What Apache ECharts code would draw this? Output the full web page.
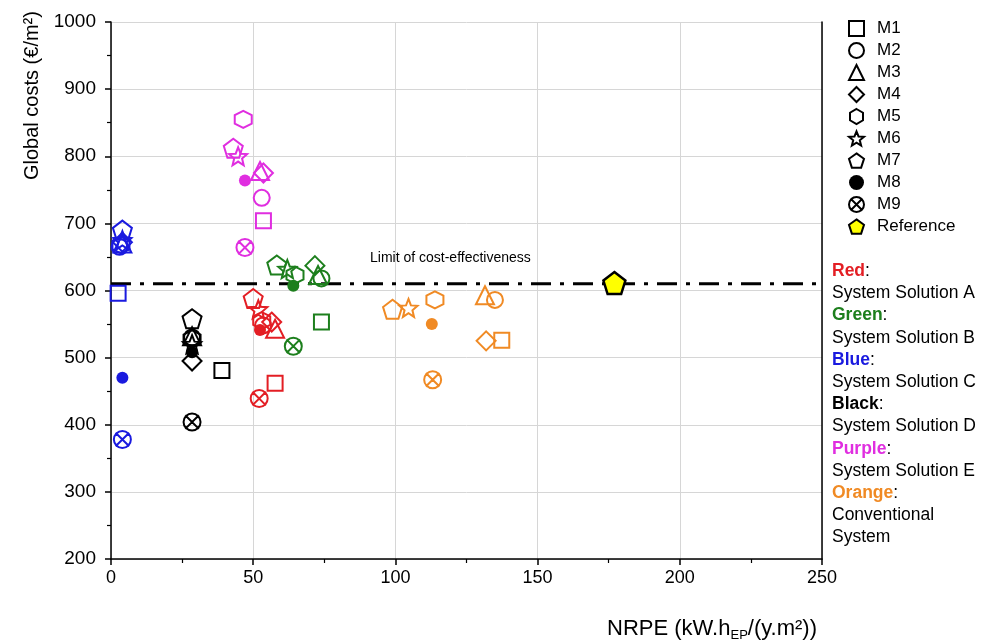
<!DOCTYPE html>
<html><head><meta charset="utf-8">
<script src="https://cdn.jsdelivr.net/npm/echarts@6/dist/echarts.min.js"></script>
<style>html,body{margin:0;padding:0;background:#fff}#c{width:981px;height:644px}</style>
</head><body><div id="c"></div>
<script>
// Systems order: A (red), B (green), C (blue), D (black), E (purple), Conventional (orange)
const systemNames = ['Red', 'Green', 'Blue', 'Black', 'Purple', 'Orange'];
const systemLabels = ['System Solution A', 'System Solution B', 'System Solution C', 'System Solution D', 'System Solution E', 'Conventional\nSystem'];
const systemColors = ['#e31e24', '#1d7f1d', '#1a1adf', '#000000', '#e02ee0', '#f08a24'];
const methodNames = ['M1', 'M2', 'M3', 'M4', 'M5', 'M6', 'M7', 'M8', 'M9'];
// [NRPE, Global cost] per system (A, B, C, D, E, Conv)
const m1 = [[57.7, 462], [74, 553], [2.5, 596], [39, 481], [53.6, 704], [137.4, 526]];
const m2 = [[53.5, 548], [74, 618], [3, 665], [28.5, 530], [53, 738], [135, 586]];
const m3 = [[57.7, 543], [72.8, 623], [4, 670], [28.5, 532], [52.4, 778], [131.5, 593]];
const m4 = [[56.5, 553], [71.7, 637], [4, 672], [28.5, 495], [53.6, 775], [131.9, 525]];
const m5 = [[53, 555], [64.7, 623], [3.5, 668], [28.5, 528], [46.5, 855], [113.9, 586]];
const m6 = [[51.8, 572], [62, 632], [4, 675], [28.5, 520], [44.7, 800], [104.6, 574]];
const m7 = [[50, 588], [58.3, 638], [4, 690], [28.5, 558], [43, 812], [99, 572]];
const m8 = [[52.4, 541], [64.1, 607], [4, 470], [28.5, 508], [47.1, 764], [112.8, 550]];
const m9 = [[52.1, 439], [64.1, 517], [4, 378], [28.5, 404], [47.1, 664], [113.1, 467]];
const referencePoint = [[177, 611]];
const limitValue = 610;
const xTicks = [0, 50, 100, 150, 200, 250];
const yTicks = [200, 300, 400, 500, 600, 700, 800, 900, 1000];

const methodData = [m1, m2, m3, m4, m5, m6, m7, m8, m9];
const symbols = [
  'rect', 'circle', 'triangle', 'diamond',
  'path://M50,0 L93.3,25 L93.3,75 L50,100 L6.7,75 L6.7,25 Z',
  'path://M50,0 L62.9,32.3 L97.6,34.5 L70.9,56.8 L79.4,90.5 L50,72 L20.6,90.5 L29.1,56.8 L2.4,34.5 L37.1,32.3 Z',
  'path://M50,0 L97.6,34.5 L79.4,90.5 L20.6,90.5 L2.4,34.5 Z',
  'circle',
  'path://M0,50 A50,50 0 1,1 100,50 A50,50 0 1,1 0,50 Z M10,10 L90,90 M90,10 L10,90'
];
const sizes = [15, 16, 18, 19, 17, 18, 19, 12, 17];
const FONT = 'Liberation Sans, Arial, sans-serif';
const BW = 2;

const series = methodNames.map((name, k) => {
  const filled = (name === 'M8');
  return {
    name: name, type: 'scatter', symbol: symbols[k], symbolSize: sizes[k],
    itemStyle: filled ? { color: '#000', opacity: 1 } : { color: 'rgba(0,0,0,0)', borderColor: '#000', borderWidth: BW, opacity: 1 },
    z: 3,
    data: methodData[k].map((p, i) => ({
      value: p,
      itemStyle: filled ? { color: systemColors[i], opacity: 1 } : { color: 'rgba(0,0,0,0)', borderColor: systemColors[i], borderWidth: BW, opacity: 1 }
    }))
  };
});
series.push({
  name: 'Limit', type: 'line', data: [[0, limitValue], [250, limitValue]], symbol: 'none', z: 2,
  lineStyle: { color: '#000', width: 3, type: [20, 9, 4, 9] }, silent: true
});
series.push({
  name: 'Reference', type: 'scatter', symbol: symbols[6], symbolSize: 22, z: 4,
  itemStyle: { color: '#ffff00', borderColor: '#000', borderWidth: 2.5, opacity: 1 },
  data: referencePoint
});

const legendData = methodNames.map((n, k) => ({
  name: n,
  itemStyle: n === 'M8' ? { color: '#000', borderWidth: 0, opacity: 1 } : { color: 'rgba(0,0,0,0)', borderColor: '#000', borderWidth: 2, opacity: 1 }
}));
legendData.push({ name: 'Reference', itemStyle: { color: '#ffff00', borderColor: '#000', borderWidth: 2, opacity: 1 } });

const rich = {};
systemNames.forEach((s, i) => { rich['c' + i] = { fontFamily: FONT, fontSize: 17.5, fontWeight: 'bold', fill: systemColors[i], lineHeight: 22.2 }; });
rich.t = { fontFamily: FONT, fontSize: 17.5, fill: '#000', lineHeight: 22.2 };
const blockLines = [];
systemNames.forEach((s, i) => {
  blockLines.push('{c' + i + '|' + s + '}{t|:}');
  systemLabels[i].split('\n').forEach(l => blockLines.push('{t|' + l + '}'));
});

const chart = echarts.init(document.getElementById('c'));
chart.setOption({
  animation: false,
  backgroundColor: '#fff',
  grid: { left: 111, right: 159, top: 22, bottom: 85 },
  xAxis: {
    type: 'value', min: xTicks[0], max: xTicks[xTicks.length - 1], interval: 50,
    axisLine: { lineStyle: { color: '#000', width: 1.5 } },
    axisTick: { inside: false, length: 6, lineStyle: { color: '#000', width: 1.5 } },
    minorTick: { show: true, splitNumber: 2, length: 4, lineStyle: { color: '#000', width: 1.2 } },
    splitLine: { show: true, lineStyle: { color: '#d6d6d6', width: 1 } },
    axisLabel: { fontFamily: FONT, fontSize: 18, color: '#000', margin: 10, formatter: v => String(v) }
  },
  yAxis: [{
    type: 'value', min: yTicks[0], max: yTicks[yTicks.length - 1], interval: 100,
    axisLine: { show: true, lineStyle: { color: '#000', width: 1.5 } },
    axisTick: { show: true, inside: false, length: 6, lineStyle: { color: '#000', width: 1.5 } },
    minorTick: { show: true, splitNumber: 2, length: 4, lineStyle: { color: '#000', width: 1.2 } },
    splitLine: { show: true, lineStyle: { color: '#d6d6d6', width: 1 } },
    axisLabel: { fontFamily: FONT, fontSize: 19, color: '#000', margin: 15, formatter: v => String(v) }
  }, {
    type: 'value', position: 'right', min: 200, max: 1000,
    axisLine: { show: true, lineStyle: { color: '#000', width: 1.5 } },
    axisTick: { show: false }, axisLabel: { show: false }, splitLine: { show: false }
  }],
  legend: {
    orient: 'vertical', left: 843, top: 15, itemWidth: 15, itemHeight: 15, itemGap: 5,
    data: legendData,
    textStyle: { fontFamily: FONT, fontSize: 17, color: '#000', padding: [0, 0, 0, 8], lineHeight: 15 }
  },
  graphic: [
    { type: 'text', rotation: Math.PI / 2, x: 22, y: 180, style: { text: 'Global costs (€/m²)', font: '20px ' + FONT, fill: '#000' } },
    { type: 'text', x: 607, y: 615, style: { text: '{a|NRPE (kW.h}{s|EP}{a|/(y.m²))}', rich: { a: { fontFamily: FONT, fontSize: 22, fill: '#000' }, s: { fontFamily: FONT, fontSize: 13, fill: '#000', padding: [14, 0, 0, 0] } } } },
    { type: 'text', x: 370, y: 251, style: { text: 'Limit of cost-effectiveness', font: '14px ' + FONT, fill: '#000' } },
    { type: 'text', x: 832, y: 260, style: { text: blockLines.join('\n'), rich: rich, lineHeight: 22.2 } }
  ],
  series: series
});
</script></body></html>
